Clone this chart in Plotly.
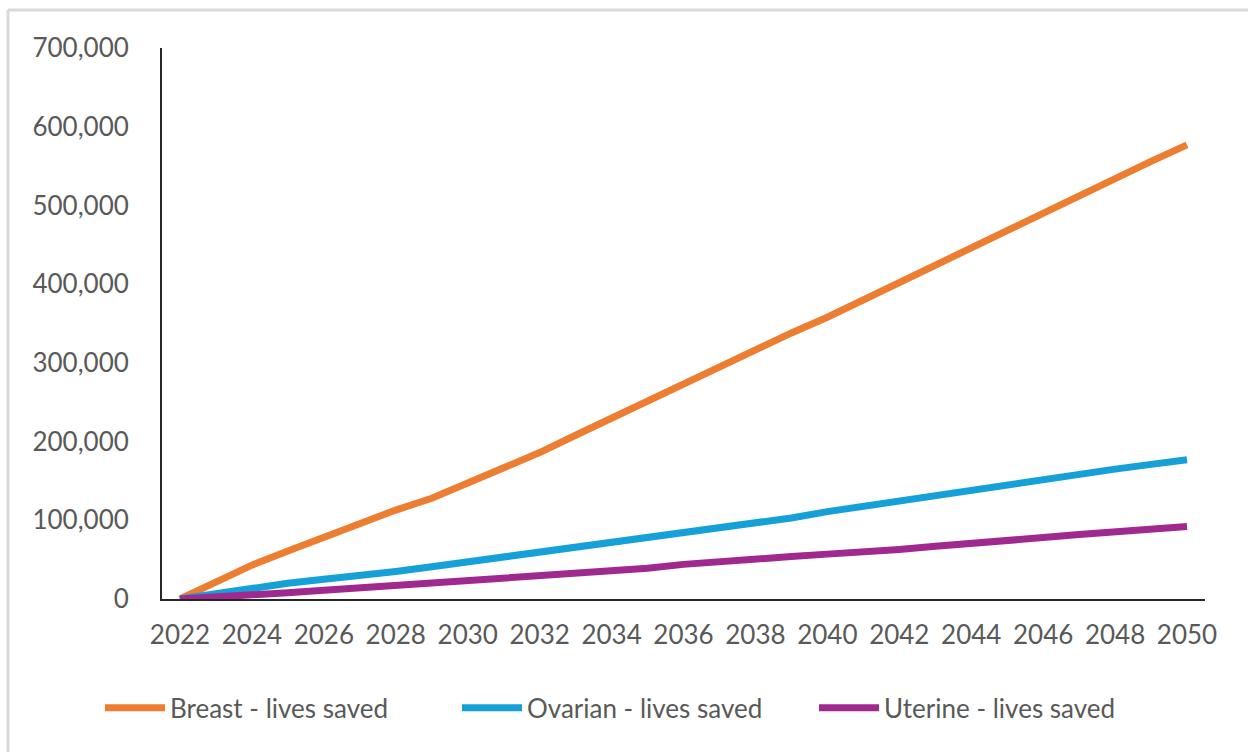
import plotly.graph_objects as go

years = list(range(2022, 2051))

breast = [0, 21000, 43000, 61000, 79000, 97000, 113000, 128000, 147000, 166000,
          186000, 208000, 230000, 252000, 274000, 294000, 316000, 338000, 358000, 380000,
          404000, 425000, 446000, 468000, 490000, 512000, 534000, 556000, 577000]

ovarian = [0, 7000, 14000, 20000, 25000, 29000, 35000, 41000, 47000, 53000,
           59000, 65000, 71000, 77000, 84000, 90000, 97000, 103000, 111000, 118000,
           125000, 131000, 137000, 145000, 152000, 158000, 165000, 171000, 177000]

uterine = [0, 2000, 5000, 8000, 11000, 14000, 18000, 21000, 24000, 27000,
           30000, 33000, 36000, 39000, 44000, 48000, 50000, 54000, 57000, 59000,
           63000, 67000, 70000, 74000, 78000, 82000, 85000, 88000, 92000]

series_names = ["Breast - lives saved", "Ovarian - lives saved", "Uterine - lives saved"]
series_colors = ["#ED7D31", "#16A0D8", "#A0298F"]

x_ticks = list(range(2022, 2051, 2))
y_ticks = list(range(0, 700001, 100000))

font_family = "Lato, 'Open Sans', sans-serif"
text_color = "#595959"
font_size = 26

fig = go.Figure()
for name, vals, col in zip(series_names, [breast, ovarian, uterine], series_colors):
    fig.add_trace(go.Scatter(
        x=years, y=vals, name=name, mode="lines",
        line=dict(color=col, width=7),
    ))

# plot-area edges in pixels, used for margins and the outer frame
L, R, T, B = 162, 1205, 48, 599
W, H = R - L, B - T
def px_x(v):
    return (v - L) / W
def px_y(v):
    return (B - v) / H

# chart frame (top and left edges)
fig.add_shape(type="line", xref="paper", yref="paper",
              x0=px_x(8), x1=px_x(1260), y0=px_y(10), y1=px_y(10),
              line=dict(color="#D9D9D9", width=3), layer="below")
fig.add_shape(type="line", xref="paper", yref="paper",
              x0=px_x(8), x1=px_x(8), y0=px_y(10), y1=px_y(760),
              line=dict(color="#D9D9D9", width=3), layer="below")

fig.update_layout(
    width=1248, height=752,
    margin=dict(l=L, r=1248 - R, t=T, b=752 - B, autoexpand=False),
    paper_bgcolor="white", plot_bgcolor="white",
    font=dict(family=font_family, size=font_size, color=text_color),
    showlegend=True,
    legend=dict(
        orientation="h", x=px_x(100), xanchor="left", y=-0.155, yanchor="top",
        font=dict(family=font_family, size=font_size, color=text_color),
        itemwidth=60, entrywidth=282, entrywidthmode="pixels", tracegroupgap=0,
    ),
    xaxis=dict(
        range=[2021.5, 2050.5], tickmode="array", tickvals=x_ticks,
        ticktext=[str(t) for t in x_ticks],
        showgrid=False, zeroline=False,
        showline=True, linecolor="#262626", linewidth=2,
        ticks="", ticklabelstandoff=12,
        tickfont=dict(family=font_family, size=font_size, color=text_color),
    ),
    yaxis=dict(
        range=[0, 700000], tickmode="array", tickvals=y_ticks,
        ticktext=[f"{t:,}" for t in y_ticks],
        showgrid=False, zeroline=False,
        showline=True, linecolor="#262626", linewidth=2,
        ticks="", ticklabelstandoff=26,
        tickfont=dict(family=font_family, size=font_size, color=text_color),
    ),
)

fig.write_html("out.html")
